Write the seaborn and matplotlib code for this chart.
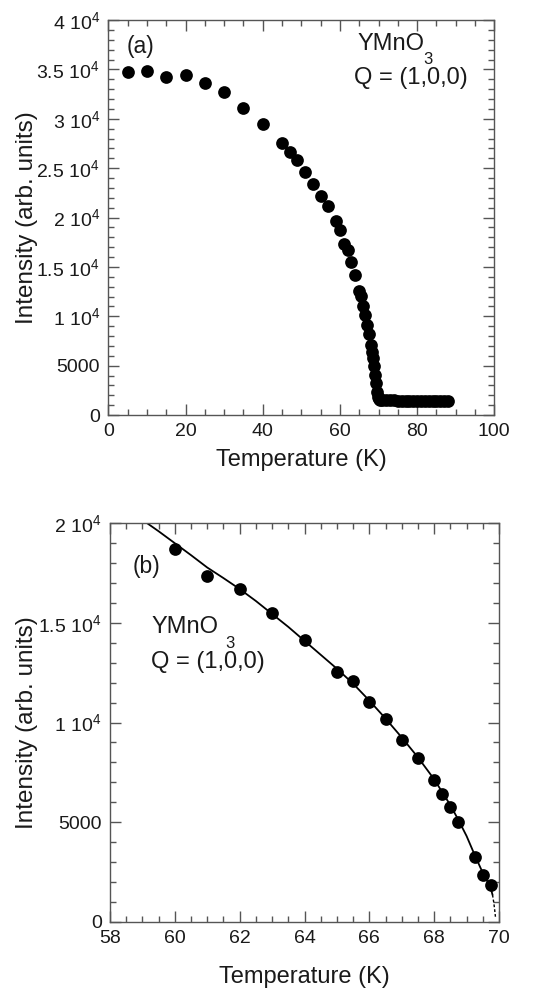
import numpy as np
import pandas as pd
import matplotlib
matplotlib.use("Agg")
import matplotlib.pyplot as plt
import seaborn as sns
from matplotlib.ticker import FixedLocator, MultipleLocator

# ---------------- data ----------------
# Panel (a): full temperature scan
temp_a = [5, 10, 15, 20, 25, 30, 35, 40, 45, 47, 49, 51, 53, 55, 57, 59,
          60, 61, 62, 63, 64, 65, 65.5, 66, 66.5, 67, 67.5, 68, 68.25, 68.5,
          68.75, 69, 69.25, 69.5, 69.75, 70, 70.25, 70.5, 71, 72, 73, 74, 75,
          76, 77, 78, 79, 80, 81, 82, 83, 84, 85, 86, 87, 88]
int_a = [34700, 34870, 34230, 34400, 33620, 32710, 31060, 29470, 27570, 26660,
         25820, 24610, 23360, 22210, 21200, 19610,
         18700, 17320, 16700, 15500, 14150, 12550, 12100, 11010, 10160, 9120,
         8230, 7110, 6430, 5760, 5000, 4100, 3230, 2330, 1860, 1700, 1620,
         1560, 1520, 1490, 1480, 1470, 1460, 1450, 1450, 1440, 1440, 1430,
         1430, 1420, 1420, 1410, 1410, 1400, 1400, 1400]

# Panel (b): zoom near the transition
temp_b = [60, 61, 62, 63, 64, 65, 65.5, 66, 66.5, 67, 67.5, 68, 68.25, 68.5,
          68.75, 69.25, 69.5, 69.75]
int_b = [18695, 17340, 16690, 15500, 14125, 12550, 12100, 11010, 10160, 9120,
         8230, 7110, 6430, 5760, 5000, 3230, 2330, 1860]

# Fitted curve in panel (b)
fit_t = [59.15, 59.5, 60, 60.5, 61, 61.5, 62, 62.5, 63, 63.5, 64, 64.5, 65,
         65.5, 66, 66.5, 67, 67.5, 68, 68.25, 68.5, 68.75, 69, 69.25, 69.5,
         69.65, 69.75, 69.8]
fit_i = [20000, 19600, 19000, 18400, 17780, 17250, 16700, 16100, 15450, 14800,
         14100, 13400, 12700, 11950, 11100, 10200, 9250, 8250, 7150, 6500,
         5850, 5100, 4300, 3350, 2450, 2000, 1650, 1350]
fit_tail_t = [69.8, 69.84, 69.87, 69.89]
fit_tail_i = [1350, 950, 550, 250]

ytick_a_vals = [0, 5000, 10000, 15000, 20000, 25000, 30000, 35000, 40000]
ytick_a_labels = ["0", "5000", "1 10$^{4}$", "1.5 10$^{4}$", "2 10$^{4}$",
                  "2.5 10$^{4}$", "3 10$^{4}$", "3.5 10$^{4}$", "4 10$^{4}$"]
ytick_b_vals = [0, 5000, 10000, 15000, 20000]
ytick_b_labels = ["0", "5000", "1 10$^{4}$", "1.5 10$^{4}$", "2 10$^{4}$"]

# ---------------- style ----------------
sns.set_theme(style="ticks")
plt.rcParams["font.family"] = ["Liberation Sans", "DejaVu Sans"]
plt.rcParams["mathtext.fontset"] = "custom"
plt.rcParams["mathtext.rm"] = "Liberation Sans"
plt.rcParams["mathtext.default"] = "regular"

TXT = "#1a1a1a"
SPINE = "#555555"

W, H = 533, 992
fig = plt.figure(figsize=(W / 100, H / 100), dpi=100)
fig.patch.set_facecolor("white")

def px(x, y):
    return x / W, 1 - y / H

def rect(l, t, r, b):
    return [l / W, 1 - b / H, (r - l) / W, (b - t) / H]

ax1 = fig.add_axes(rect(108.3, 20, 494.3, 415))
ax2 = fig.add_axes(rect(110, 523.3, 499, 921.7))

df_a = pd.DataFrame({"T": temp_a, "I": int_a})
df_b = pd.DataFrame({"T": temp_b, "I": int_b})
df_fit = pd.DataFrame({"T": fit_t, "I": fit_i})
df_tail = pd.DataFrame({"T": fit_tail_t, "I": fit_tail_i})

MS = 84
sns.scatterplot(data=df_a, x="T", y="I", ax=ax1, color="black", s=MS,
                linewidth=0, legend=False, zorder=3)
sns.lineplot(data=df_fit, x="T", y="I", ax=ax2, color="black", lw=1.3,
             sort=False, estimator=None, legend=False, zorder=2)
sns.lineplot(data=df_tail, x="T", y="I", ax=ax2, color="black", lw=1.0,
             sort=False, estimator=None, legend=False, zorder=2,
             linestyle=(0, (2, 1.5)))
sns.scatterplot(data=df_b, x="T", y="I", ax=ax2, color="black", s=MS,
                linewidth=0, legend=False, zorder=3)

def style_axes(ax, xlim, ylim, xmaj, xmin, yvals, ylabels):
    ax.set_xlim(*xlim)
    ax.set_ylim(*ylim)
    ax.xaxis.set_major_locator(MultipleLocator(xmaj))
    ax.xaxis.set_minor_locator(MultipleLocator(xmin))
    ax.yaxis.set_major_locator(FixedLocator(yvals))
    ax.set_yticklabels(ylabels)
    ax.yaxis.set_minor_locator(MultipleLocator(1000))
    ax.tick_params(which="both", direction="in", top=True, right=True,
                   color=SPINE, width=1.0, labelsize=14, labelcolor=TXT, pad=6)
    ax.tick_params(which="major", length=8)
    ax.tick_params(which="minor", length=4.5)
    for s in ax.spines.values():
        s.set_visible(True)
        s.set_color(SPINE)
        s.set_linewidth(1.0)
    ax.set_facecolor("white")
    ax.grid(False)

style_axes(ax1, (0, 100), (0, 40000), 20, 5, ytick_a_vals, ytick_a_labels)
style_axes(ax2, (58, 70), (0, 20000), 2, 0.5, ytick_b_vals, ytick_b_labels)

for ax, xl_y, yl_x in ((ax1, -0.114, -0.211), (ax2, -0.139, -0.213)):
    ax.set_xlabel("Temperature (K)", fontsize=17, color=TXT)
    ax.set_ylabel("Intensity (arb. units)", fontsize=17.5, color=TXT)
    ax.xaxis.label.set_va("center")
    ax.yaxis.label.set_va("center")
    ax.yaxis.label.set_ha("center")
    ax.xaxis.set_label_coords(0.5, xl_y)
    ax.yaxis.set_label_coords(yl_x, 0.5)

# annotations
def ftxt(x, y, s, size, ha="left"):
    fig.text(*px(x, y), s, fontsize=size, color=TXT, ha=ha, va="center")

ftxt(127, 47, "(a)", 16.5)
ftxt(358, 44, "YMnO", 17)
ftxt(428, 59, "3", 12, ha="center")
ftxt(354, 78, "Q = (1,0,0)", 17)

ftxt(133, 567, "(b)", 16.5)
ftxt(152, 627, "YMnO", 17)
ftxt(230, 643, "3", 12, ha="center")
ftxt(151, 662, "Q = (1,0,0)", 17)

fig.savefig("out.png", dpi=100, facecolor="white")
